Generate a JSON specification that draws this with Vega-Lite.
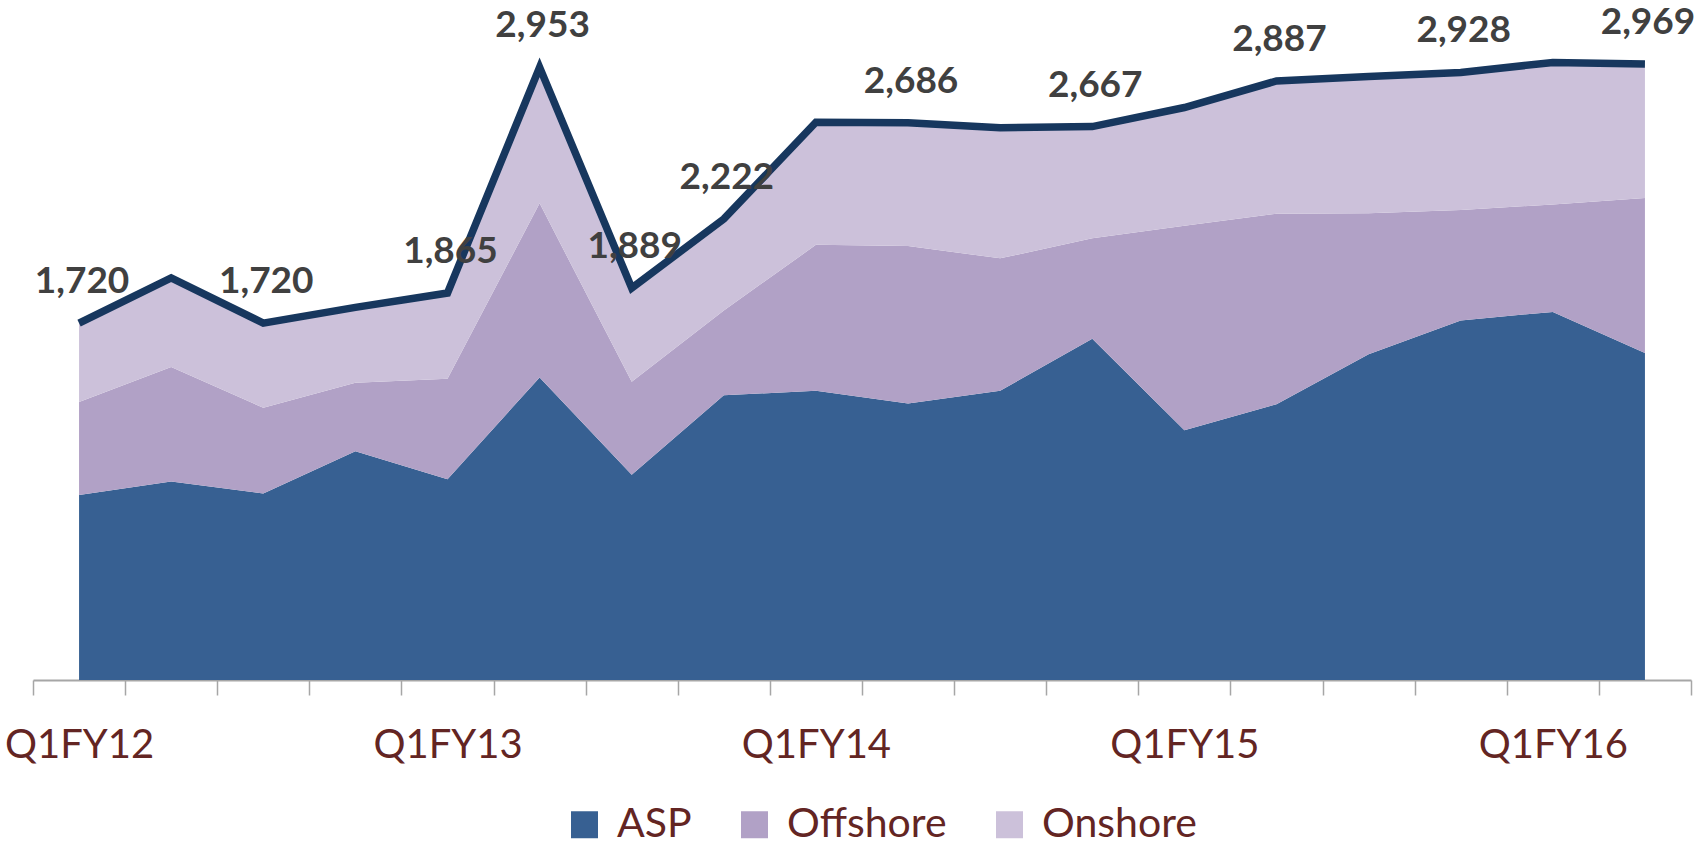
{
  "$schema": "https://vega.github.io/schema/vega-lite/v6.json",
  "width": 1658,
  "height": 664,
  "autosize": {"type": "none"},
  "padding": {"left": 33, "top": 16, "right": 11, "bottom": 166},
  "background": "white",
  "config": {"view": {"stroke": null}},
  "data": {"values": [
    {"q": "Q1FY12", "ASP": 892, "Offshore": 448, "Onshore": 380, "Total": 1720},
    {"q": "Q2FY12", "ASP": 957, "Offshore": 551, "Onshore": 430, "Total": 1938},
    {"q": "Q3FY12", "ASP": 899, "Offshore": 413, "Onshore": 408, "Total": 1720},
    {"q": "Q4FY12", "ASP": 1103, "Offshore": 329, "Onshore": 364, "Total": 1796},
    {"q": "Q1FY13", "ASP": 968, "Offshore": 484, "Onshore": 413, "Total": 1865},
    {"q": "Q2FY13", "ASP": 1458, "Offshore": 839, "Onshore": 656, "Total": 2953},
    {"q": "Q3FY13", "ASP": 989, "Offshore": 448, "Onshore": 452, "Total": 1889},
    {"q": "Q4FY13", "ASP": 1372, "Offshore": 409, "Onshore": 441, "Total": 2222},
    {"q": "Q1FY14", "ASP": 1394, "Offshore": 703, "Onshore": 591, "Total": 2688},
    {"q": "Q2FY14", "ASP": 1333, "Offshore": 759, "Onshore": 594, "Total": 2686},
    {"q": "Q3FY14", "ASP": 1394, "Offshore": 638, "Onshore": 630, "Total": 2662},
    {"q": "Q4FY14", "ASP": 1645, "Offshore": 484, "Onshore": 538, "Total": 2667},
    {"q": "Q1FY15", "ASP": 1204, "Offshore": 985, "Onshore": 570, "Total": 2759},
    {"q": "Q2FY15", "ASP": 1329, "Offshore": 918, "Onshore": 640, "Total": 2887},
    {"q": "Q3FY15", "ASP": 1570, "Offshore": 679, "Onshore": 659, "Total": 2908},
    {"q": "Q4FY15", "ASP": 1733, "Offshore": 532, "Onshore": 663, "Total": 2928},
    {"q": "Q1FY16", "ASP": 1774, "Offshore": 518, "Onshore": 684, "Total": 2976},
    {"q": "Q2FY16", "ASP": 1576, "Offshore": 747, "Onshore": 646, "Total": 2969}
  ]},
  "encoding": {
    "x": {
      "field": "q", "type": "ordinal", "sort": null, "bandPosition": 0.5,
      "scale": {"type": "band", "paddingInner": 0, "paddingOuter": 0},
      "axis": {
        "title": null,
        "labelAngle": 0,
        "tickBand": "extent",
        "domainColor": "#A6A6A6", "domainWidth": 2,
        "tickColor": "#A6A6A6", "tickWidth": 1.5, "tickSize": 15,
        "labelFont": "Lato", "labelFontSize": 40, "labelColor": "#632523",
        "labelBaseline": "alphabetic", "labelPadding": 62,
        "labelExpr": "test(/^Q1/, datum.label) ? datum.label : ''",
        "labelOverlap": false
      }
    }
  },
  "layer": [
    {
      "transform": [{"fold": ["ASP", "Offshore", "Onshore"], "as": ["series", "value"]}],
      "mark": {"type": "area", "opacity": 1},
      "encoding": {
        "y": {"field": "value", "type": "quantitative", "stack": "zero",
              "scale": {"domain": [0, 3200], "nice": false}, "axis": null},
        "color": {
          "field": "series", "type": "nominal",
          "scale": {"domain": ["ASP", "Offshore", "Onshore"], "range": ["#376092", "#B1A1C6", "#CCC1DA"]},
          "legend": {
            "title": null, "orient": "none", "direction": "horizontal",
            "legendX": 531, "legendY": 788, "padding": 0,
            "symbolType": "square", "symbolSize": 729, "symbolStrokeWidth": 0, "symbolOpacity": 1,
            "labelFont": "Lato", "labelFontSize": 41, "labelColor": "#632523",
            "labelOffset": 12, "columnPadding": 42, "labelLimit": 400
          }
        },
        "order": {"field": "series", "sort": "ascending"}
      }
    },
    {
      "mark": {"type": "line", "color": "#17375E", "strokeWidth": 7.5, "strokeJoin": "miter"},
      "encoding": {
        "y": {"field": "Total", "type": "quantitative"}
      }
    },
    {
      "transform": [{"filter": {"field": "q", "oneOf": ["Q1FY12", "Q3FY12", "Q1FY13", "Q2FY13", "Q3FY13", "Q4FY13", "Q2FY14", "Q4FY14", "Q2FY15", "Q4FY15", "Q2FY16"]}}],
      "mark": {"type": "text", "font": "Lato", "fontWeight": "bold", "fontSize": 37, "color": "#404040",
               "baseline": "alphabetic", "align": "center", "dy": -30, "dx": 3},
      "encoding": {
        "y": {"field": "Total", "type": "quantitative"},
        "text": {"field": "Total", "type": "quantitative", "format": ","}
      }
    }
  ]
}
